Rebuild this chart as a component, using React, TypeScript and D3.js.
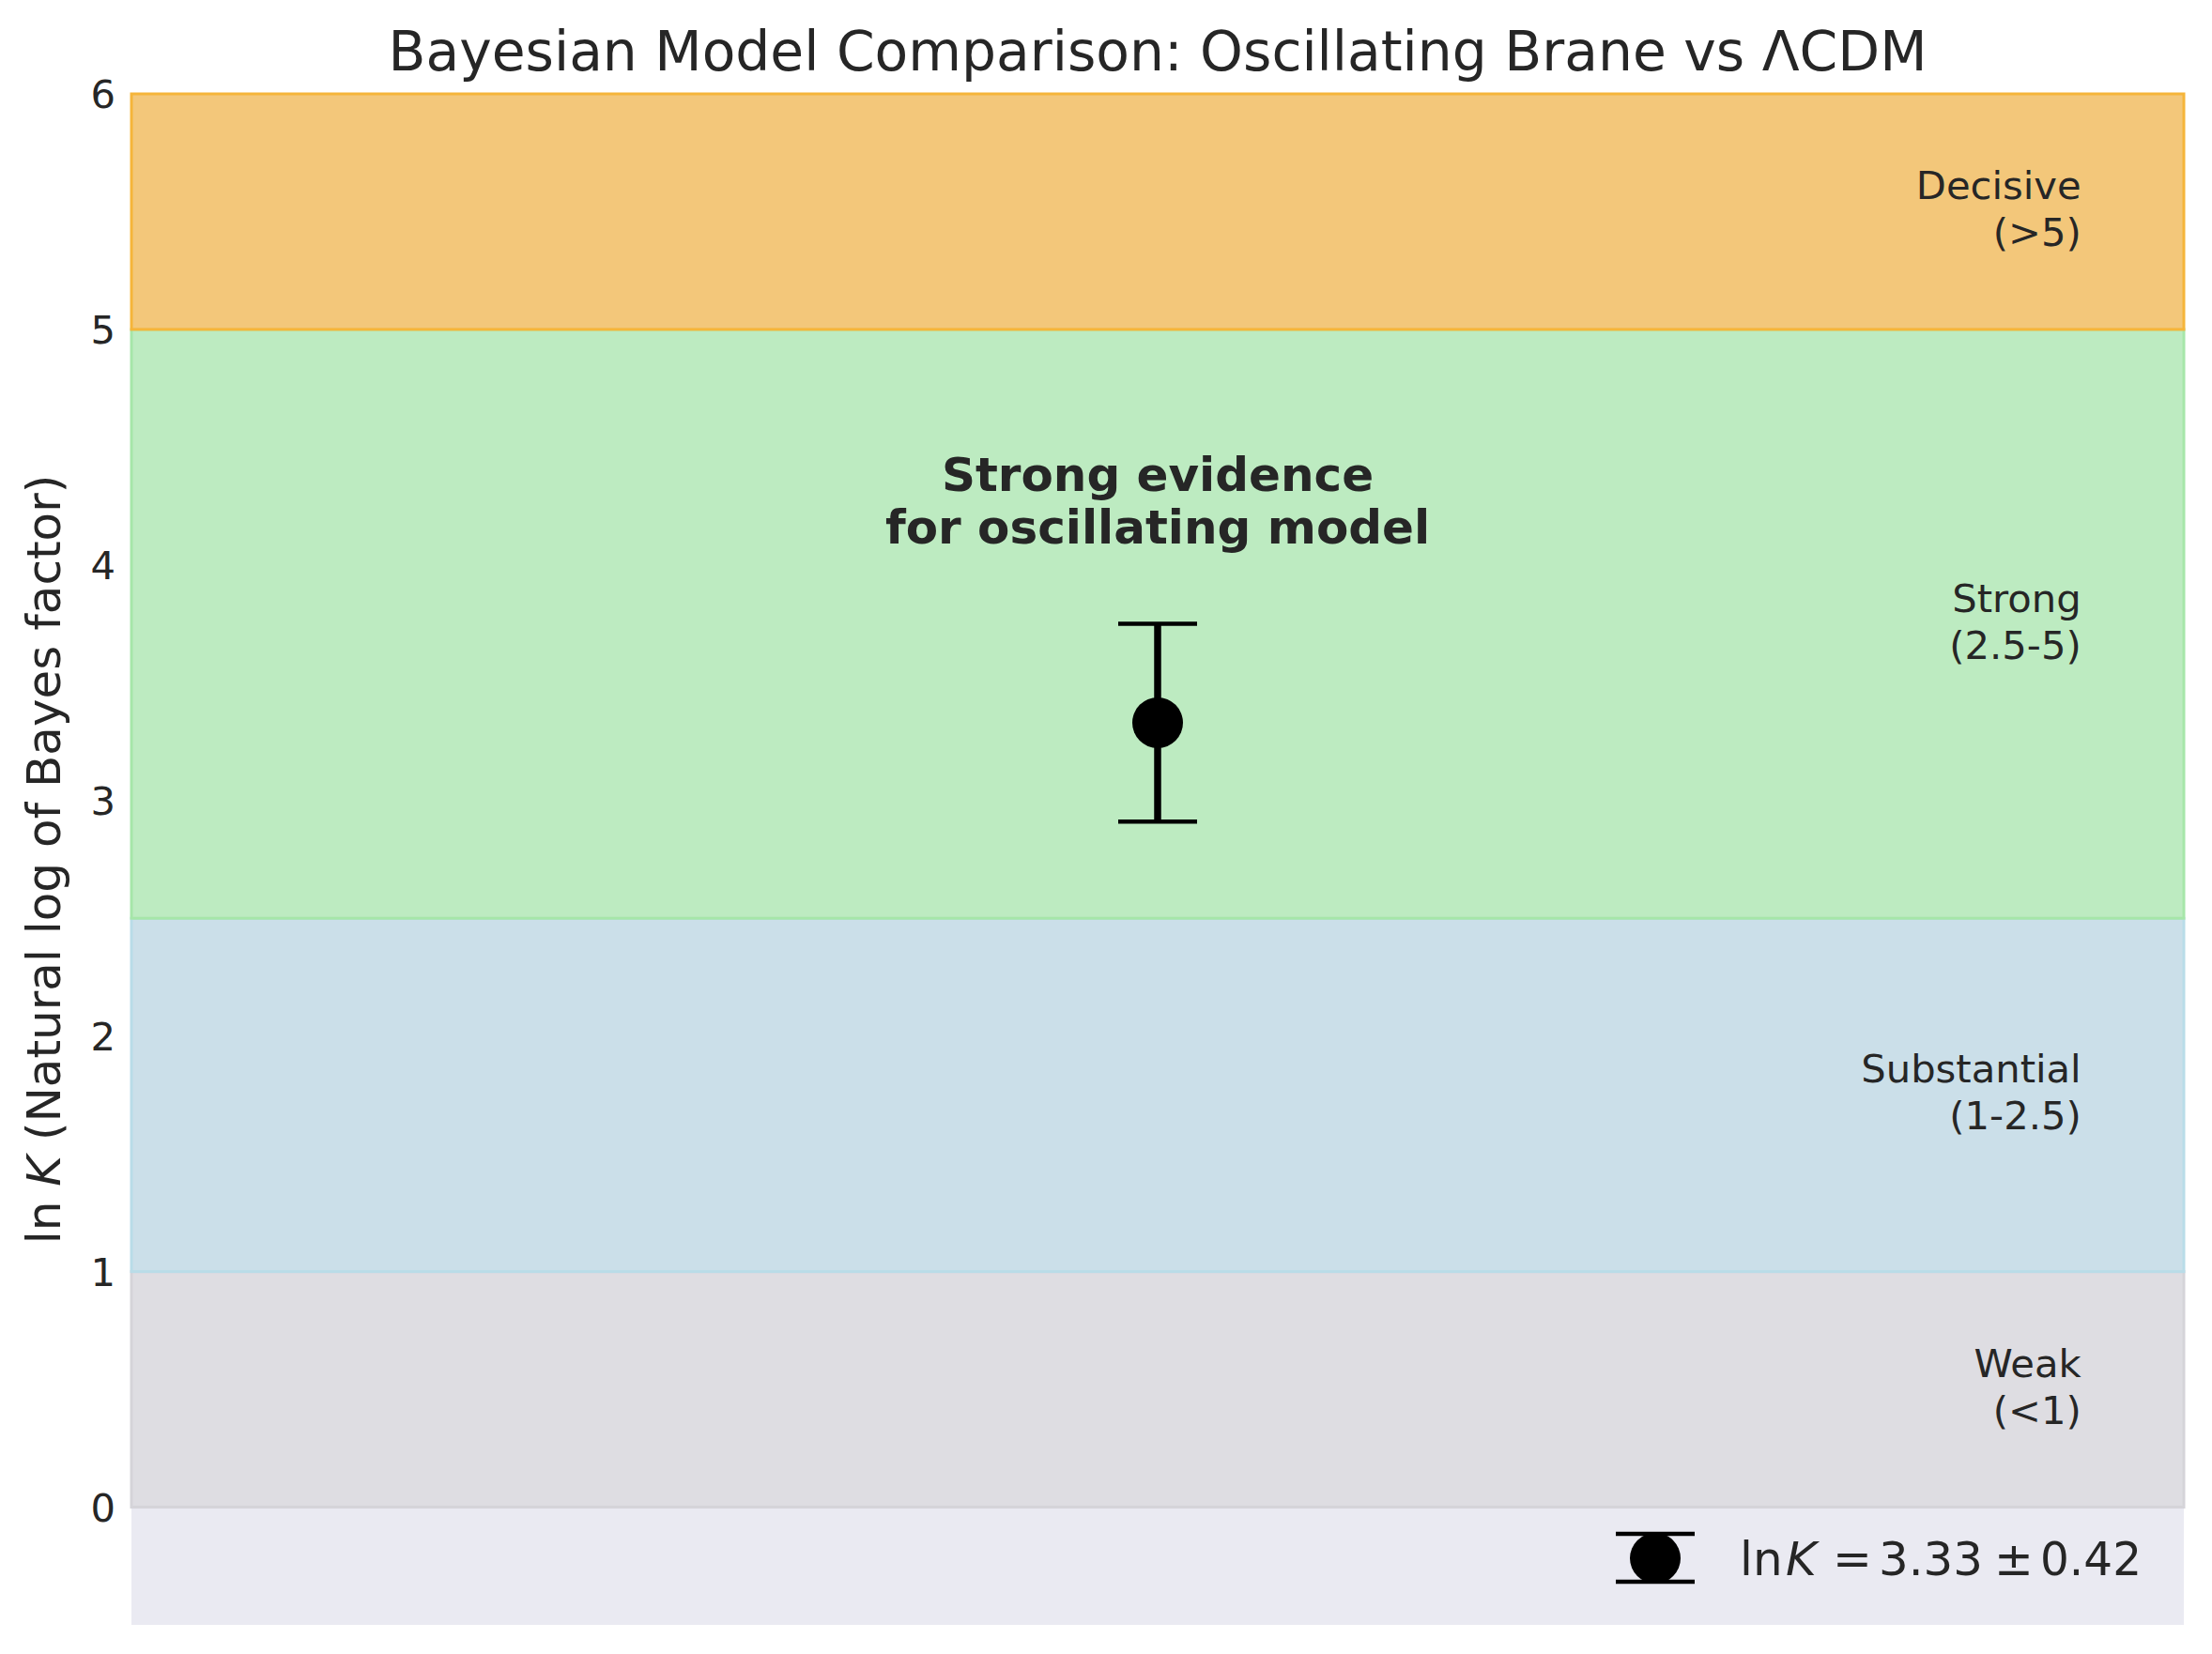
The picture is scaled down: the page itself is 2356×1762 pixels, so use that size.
import React from "react";
import * as d3 from "d3";

const W = 2356;
const H = 1762;
const FONT = "'DejaVu Sans', sans-serif";

// Evidence bands (Jeffreys scale)
const bandLower = [0, 1, 2.5, 5];
const bandUpper = [1, 2.5, 5, 6];
const bandNames = ["Weak", "Substantial", "Strong", "Decisive"];
const bandRanges = ["(<1)", "(1-2.5)", "(2.5-5)", "(>5)"];
const bandFill = ["#DEDDE2", "#CBDFE9", "#BDEBC1", "#F3C77A"];
const bandEdge = ["#D5D4D9", "#B9DCE8", "#A6E6A9", "#F5B53A"];

const yTicks = [0, 1, 2, 3, 4, 5, 6];

// Measurement
const lnK = [3.33];
const lnKErr = [0.42];
const xPos = [1];

const margin = { left: 140, right: 30, top: 100, bottom: 31 };

export default function App() {
  const x = d3.scaleLinear().domain([0, 2]).range([margin.left, W - margin.right]);
  const y = d3.scaleLinear().domain([-0.5, 6]).range([H - margin.bottom, margin.top]);
  const plotW = W - margin.left - margin.right;
  const plotH = H - margin.top - margin.bottom;
  const labelX = x(1.9);
  const legY = 1678;

  return (
    <svg width={W} height={H} style={{ display: "block", position: "absolute", left: 0, top: 0 }} fontFamily={FONT}>
      <rect x={0} y={0} width={W} height={H} fill="#ffffff" />
      <rect x={margin.left} y={margin.top} width={plotW} height={plotH} fill="#EAEAF2" />
      {bandLower.map((lo, i) => (
        <rect
          key={"b" + i}
          x={margin.left}
          y={y(bandUpper[i])}
          width={plotW}
          height={y(lo) - y(bandUpper[i])}
          fill={bandFill[i]}
          stroke={bandEdge[i]}
          strokeWidth={3}
        />
      ))}
      {bandLower.map((lo, i) => (
        <text
          key={"t" + i}
          x={labelX}
          y={y((lo + bandUpper[i]) / 2)}
          textAnchor="end"
          fontSize={41.7}
          fill="#262626"
        >
          <tspan x={labelX} dy={-13}>{bandNames[i]}</tspan>
          <tspan x={labelX} dy={50}>{bandRanges[i]}</tspan>
        </text>
      ))}
      {yTicks.map((t) => (
        <text key={"yt" + t} x={123} y={y(t) + 15} textAnchor="end" fontSize={41.7} fill="#262626">
          {t}
        </text>
      ))}
      <text
        transform={`translate(64, ${margin.top + plotH / 2}) rotate(-90)`}
        textAnchor="middle"
        fontSize={50}
        fill="#262626"
      >
        ln <tspan fontStyle="italic">K</tspan> (Natural log of Bayes factor)
      </text>
      <text x={x(1)} y={75} textAnchor="middle" fontSize={58.3} fill="#262626">
        Bayesian Model Comparison: Oscillating Brane vs ΛCDM
      </text>
      <text x={x(1)} y={523} textAnchor="middle" fontSize={50} fontWeight="bold" fill="#262626">
        <tspan x={x(1)}>Strong evidence</tspan>
        <tspan x={x(1)} dy={56}>for oscillating model</tspan>
      </text>
      {xPos.map((xv, i) => (
        <g key={"pt" + i}>
          <line x1={x(xv)} x2={x(xv)} y1={y(lnK[i] - lnKErr[i])} y2={y(lnK[i] + lnKErr[i])} stroke="#000" strokeWidth={7.5} />
          <line x1={x(xv) - 42} x2={x(xv) + 42} y1={y(lnK[i] + lnKErr[i])} y2={y(lnK[i] + lnKErr[i])} stroke="#000" strokeWidth={4.5} />
          <line x1={x(xv) - 42} x2={x(xv) + 42} y1={y(lnK[i] - lnKErr[i])} y2={y(lnK[i] - lnKErr[i])} stroke="#000" strokeWidth={4.5} />
          <circle cx={x(xv)} cy={y(lnK[i])} r={27} fill="#000" />
        </g>
      ))}
      <g>
        <line x1={1763} x2={1763} y1={1634} y2={1685} stroke="#000" strokeWidth={7.5} />
        <line x1={1721} x2={1805} y1={1634} y2={1634} stroke="#000" strokeWidth={4.5} />
        <line x1={1721} x2={1805} y1={1685} y2={1685} stroke="#000" strokeWidth={4.5} />
        <circle cx={1763} cy={1660} r={27} fill="#000" />
        <g fontSize={50} fill="#262626">
          <text x={1853} y={legY}>ln</text>
          <text x={1902} y={legY} fontStyle="italic">K</text>
          <text x={1952} y={legY}>=</text>
          <text x={2001} y={legY} textLength={111} lengthAdjust="spacingAndGlyphs">3.33</text>
          <text x={2124} y={legY}>±</text>
          <text x={2173} y={legY} textLength={108} lengthAdjust="spacingAndGlyphs">0.42</text>
        </g>
      </g>
    </svg>
  );
}
